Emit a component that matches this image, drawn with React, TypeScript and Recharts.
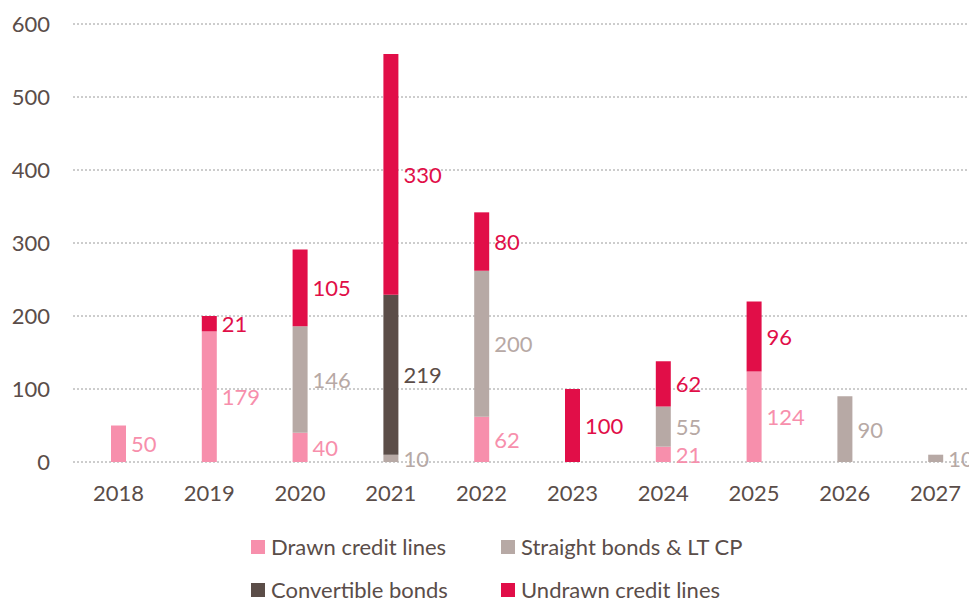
import { BarChart, Bar, XAxis, YAxis, CartesianGrid, Legend, LabelList } from 'recharts';

const years = ['2018', '2019', '2020', '2021', '2022', '2023', '2024', '2025', '2026', '2027'];
const drawnCredit = [50, 179, 40, null, 62, null, 21, 124, null, null];
const straightBonds = [null, null, 146, 10, 200, null, 55, null, 90, 10];
const convertibleBonds = [null, null, null, 219, null, null, null, null, null, null];
const undrawnCredit = [null, 21, 105, 330, 80, 100, 62, 96, null, null];
const yTicks = [0, 100, 200, 300, 400, 500, 600];

const FONT = 'Lato, "Open Sans", sans-serif';
const TEXT = '#5a4d49';

const series = [
  { key: 'drawn', name: 'Drawn credit lines', color: '#f78fac', values: drawnCredit },
  { key: 'straight', name: 'Straight bonds & LT CP', color: '#b7a9a5', values: straightBonds },
  { key: 'convertible', name: 'Convertible bonds', color: '#5b4d48', values: convertibleBonds },
  { key: 'undrawn', name: 'Undrawn credit lines', color: '#e10e48', values: undrawnCredit },
];

const data = years.map((year, i) => {
  const row: Record<string, string | number | null> = { year };
  series.forEach((s) => {
    row[s.key] = s.values[i];
  });
  return row;
});

function makeLabel(color: string) {
  return (props: any) => {
    const { x, y, width, height, value } = props;
    if (value == null || value === 0) return null;
    return (
      <text
        x={x + width + 5}
        y={y + height / 2}
        fill={color}
        fontSize={22}
        fontFamily={FONT}
        dominantBaseline="central"
      >
        {value}
      </text>
    );
  };
}

function LegendBox() {
  return (
    <div
      style={{
        display: 'grid',
        gridTemplateColumns: '250px 250px',
        rowGap: 17,
        paddingLeft: 243,
        fontFamily: FONT,
        fontSize: 22,
        lineHeight: '26px',
        color: TEXT,
      }}
    >
      {series.map((s) => (
        <div key={s.key} style={{ display: 'flex', alignItems: 'center', height: 26, whiteSpace: 'nowrap' }}>
          <span style={{ width: 14, height: 14, background: s.color, marginRight: 6, flexShrink: 0 }} />
          <span>{s.name}</span>
        </div>
      ))}
    </div>
  );
}

export default function App() {
  return (
    <div style={{ position: 'absolute', top: 8, left: 8, width: 961, height: 594, overflow: 'hidden' }}>
      <BarChart
        width={973}
        height={594}
        data={data}
        margin={{ top: 16, right: 0, bottom: 110, left: 0 }}
        barSize={15}
      >
        <CartesianGrid vertical={false} stroke="#9a9a9a" strokeDasharray="2 2" />
        <XAxis
          dataKey="year"
          height={30}
          axisLine={false}
          tickLine={false}
          tickMargin={17}
          tick={{ fontSize: 22, fill: TEXT, fontFamily: FONT }}
        />
        <YAxis
          width={65}
          domain={[0, 600]}
          ticks={yTicks}
          axisLine={false}
          tickLine={false}
          tickMargin={17}
          tick={{ fontSize: 22, fill: TEXT, fontFamily: FONT }}
        />
        <Legend
          verticalAlign="middle"
          align="center"
          wrapperStyle={{ top: 526, left: 0, width: 961 }}
          content={() => <LegendBox />}
        />
        {series.map((s) => (
          <Bar key={s.key} dataKey={s.key} name={s.name} stackId="a" fill={s.color} isAnimationActive={false}>
            <LabelList dataKey={s.key} content={makeLabel(s.color)} />
          </Bar>
        ))}
      </BarChart>
    </div>
  );
}
